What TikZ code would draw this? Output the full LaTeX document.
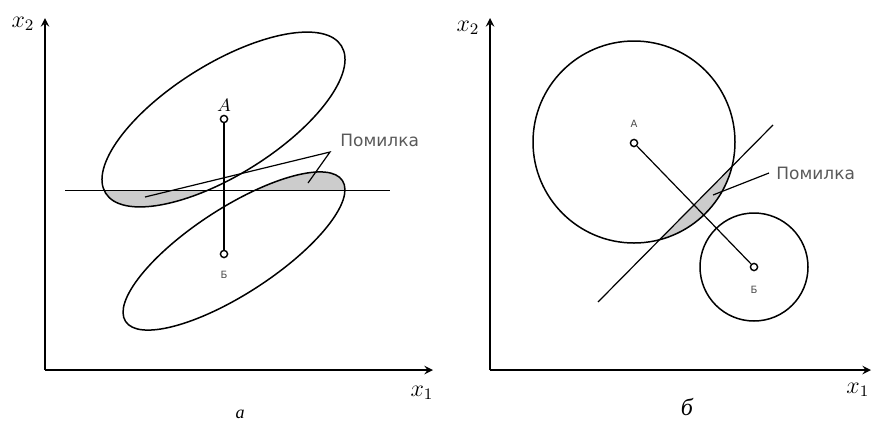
\documentclass[tikz,border=0pt]{standalone}
\usepackage{fontspec}
\newfontfamily\labelfont{DejaVu Sans}
\newfontfamily\capfont{Liberation Serif}
\begin{document}
\begin{tikzpicture}[x=0.5pt, y=-0.5pt, line width=0.75pt, font=\labelfont,
  pnt/.style={circle, draw, fill=white, inner sep=0pt, minimum size=3.6pt, line width=0.7pt},
  err/.style={fill=black!20},
  lbl/.style={text=black!65, font=\labelfont\fontsize{8.5}{10}\selectfont},
  small/.style={text=black!70, font=\labelfont\fontsize{5}{6}\selectfont},
  axlbl/.style={font=\fontsize{12}{14}\selectfont},
  captxt/.style={font=\capfont\itshape\fontsize{12}{14}\selectfont}]
  \useasboundingbox (0,0) rectangle (872,424);
  % --- а ---
  \draw[->, >=stealth, line width=0.9pt] (45,370) -- (45,18);
  \draw[->, >=stealth, line width=0.9pt] (45,370) -- (433,370);
  \node[axlbl] (ya) at (23,24) {$x_2$};
  \node[axlbl] (xa) at (422,393) {$x_1$};
  \begin{scope}
    \clip (60,190.7) rectangle (400,340);
    \fill[err, rotate around={32:(223.5,119.5)}] (223.5,119.5) ellipse [x radius=139, y radius=55.5];
  \end{scope}
  \begin{scope}
    \clip (60,40) rectangle (400,190.7);
    \fill[err, rotate around={33:(234,251)}] (234,251) ellipse [x radius=129.3, y radius=42.9];
  \end{scope}
  \draw[rotate around={32:(223.5,119.5)}] (223.5,119.5) ellipse [x radius=139, y radius=55.5];
  \draw[rotate around={33:(234,251)}] (234,251) ellipse [x radius=129.3, y radius=42.9];
  \draw (65,190.7) -- (390,190.7);
  \node[pnt] (Aa) at (224,119) {};
  \node[pnt] (Ba) at (224,254) {};
  \draw (Aa) -- (Ba);
  \node[font=\fontsize{9}{10}\selectfont] (Aal) at (224,105) {$A$};
  \node[small] (Bal) at (224,275) {Б};
  \node[lbl, anchor=west] (erra) at (333,140) {Помилка};
  \coordinate (ka) at (330,152);
  \coordinate (ea1) at (145,197);
  \coordinate (ea2) at (308,183);
  \draw[line width=0.6pt] (ea1) -- (ka) -- (ea2);
  \node[font=\capfont\itshape\fontsize{9}{10}\selectfont] (capa) at (240,414) {а};
  % --- б ---
  \draw[->, >=stealth, line width=0.9pt] (490,370) -- (490,18);
  \draw[->, >=stealth, line width=0.9pt] (490,370) -- (871,370);
  \node[axlbl] (yb) at (468,28) {$x_2$};
  \node[axlbl, anchor=east, inner sep=1pt] (xb) at (872,390) {$x_1$};
  \begin{scope}
    \clip (540,360.6) -- (820,77.5) -- (820,360.6) -- cycle;
    \fill[err] (634,142) circle [radius=101];
  \end{scope}
  \draw (634,142) circle [radius=101];
  \draw (754,267) circle [radius=54];
  \draw[line width=0.6pt] (598,302) -- (773,125);
  \node[pnt] (Ab) at (634,143) {};
  \node[pnt] (Bb) at (754,267) {};
  \draw[line width=0.6pt] (Ab) -- (Bb);
  \node[small] (Abl) at (634,124) {А};
  \node[small] (Bbl) at (754,290) {Б};
  \node[lbl, anchor=west] (errb) at (769,173) {Помилка};
  \coordinate (eb) at (713,195);
  \draw[line width=0.6pt] (eb) -- (errb.west);
  \node[captxt] (capb) at (687,407) {б};
\end{tikzpicture}
\end{document}
